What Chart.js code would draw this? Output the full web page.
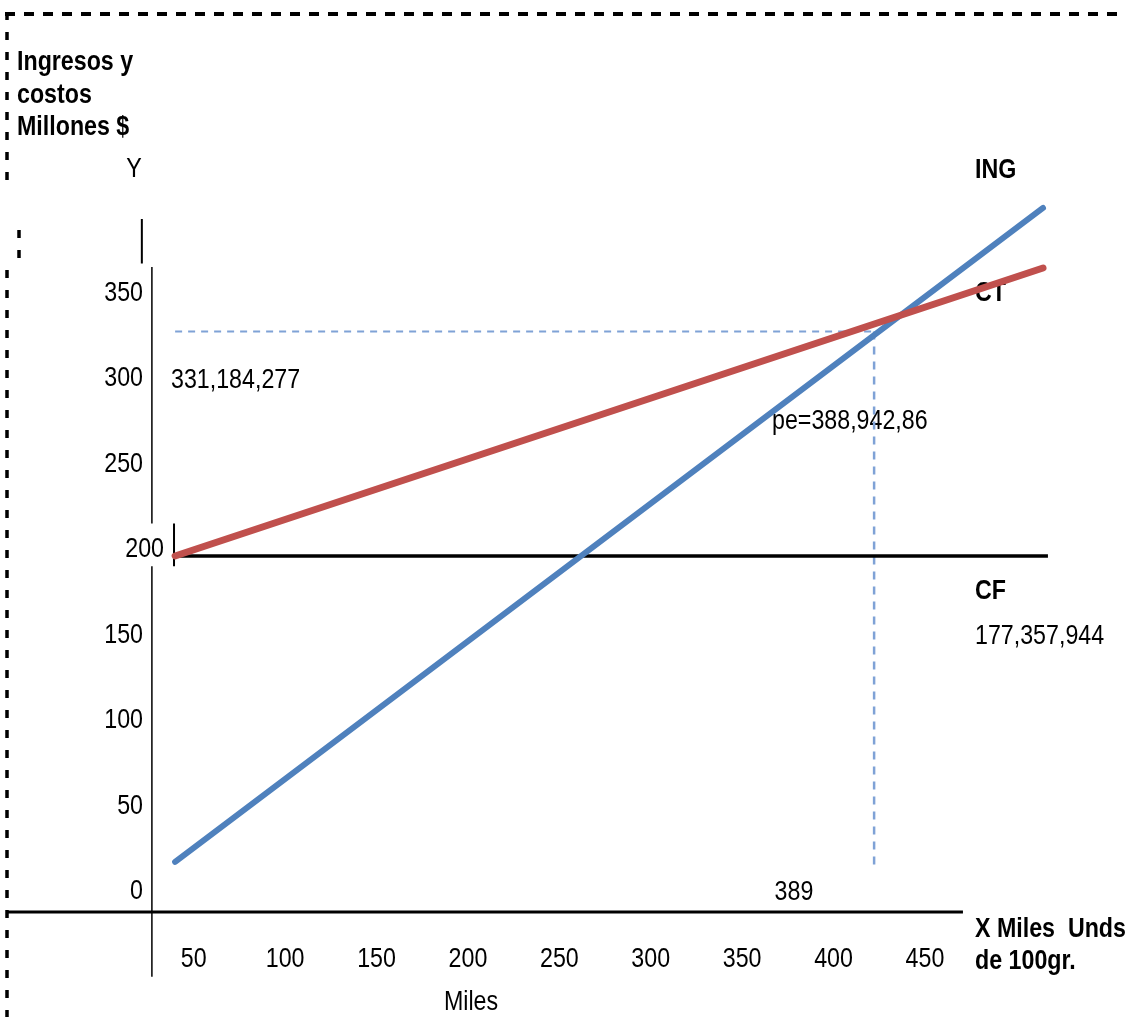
<!DOCTYPE html>
<html>
<head>
<meta charset="utf-8">
<script src="https://cdn.jsdelivr.net/npm/chart.js@4/dist/chart.umd.min.js"></script>
<style>
  html, body { margin: 0; padding: 0; background: #ffffff; }
  #wrap { position: relative; width: 1126px; height: 1017px; }
</style>
</head>
<body>
<div id="wrap"><canvas id="c" width="1126" height="1017"></canvas></div>
<script>
// Units: x in thousands of 100 g units, y in millions of $
const xTicks = [50, 100, 150, 200, 250, 300, 350, 400, 450];
const yTicks = [0, 50, 100, 150, 200, 250, 300, 350];

// Ingresos (ING)
const ingX = [39.8, 514.6];
const ingY = [21.1, 403.5];
// Costo total (CT)
const ctX = [39.8, 514.6];
const ctY = [200, 368.4];
// Costo fijo (CF)
const cfX = [39.8, 517.3];
const cfY = [200, 200];

// Break-even guides
const peIncome = 331.184277;      // 331,184,277 $
const peUnits = 388.94286;        // 388,942,86 units
const guideX = [39.8, 422.2];     // horizontal guide extent
const dropY = [331.184277, 16.4]; // vertical guide extent
const dropX = 422.2;

const toPoints = (xs, ys) => xs.map((x, i) => ({ x, y: ys[i] }));

const SANS = '"Liberation Sans Narrow", "Arial Narrow", "Liberation Sans", Arial, sans-serif';
const NARROW = 0.86; // condensed lettering

const decor = {
  id: 'decor',
  beforeDatasetsDraw(chart) {
    const { ctx } = chart;
    const xs = chart.scales.x, ys = chart.scales.y;
    const X = v => xs.getPixelForValue(v);
    const Y = v => ys.getPixelForValue(v);
    ctx.save();

    // page frame (dashed, top and left)
    ctx.strokeStyle = '#000';
    ctx.lineWidth = 4;
    ctx.setLineDash([10, 9]);
    ctx.beginPath(); ctx.moveTo(5, 14); ctx.lineTo(1126, 14); ctx.stroke();
    ctx.lineWidth = 3.5;
    ctx.setLineDash([8, 12]);
    ctx.beginPath(); ctx.moveTo(7, 12); ctx.lineTo(7, 182); ctx.stroke();
    ctx.beginPath(); ctx.moveTo(19, 230); ctx.lineTo(19, 262); ctx.stroke();
    ctx.beginPath(); ctx.moveTo(7, 270); ctx.lineTo(7, 1017); ctx.stroke();
    ctx.setLineDash([]);

    // axes
    ctx.lineWidth = 1.5;
    ctx.beginPath();
    ctx.moveTo(X(27.1), Y(369)); ctx.lineTo(X(27.1), Y(219));
    ctx.moveTo(X(27.1), Y(194)); ctx.lineTo(X(27.1), Y(-46));
    ctx.stroke();
    ctx.lineWidth = 2;
    ctx.beginPath();
    ctx.moveTo(X(21.6), Y(397)); ctx.lineTo(X(21.6), Y(371));
    ctx.moveTo(X(39.2), Y(219)); ctx.lineTo(X(39.2), Y(194));
    ctx.stroke();
    ctx.lineWidth = 3;
    ctx.beginPath(); ctx.moveTo(X(-52.2), Y(-8.2)); ctx.lineTo(X(470.8), Y(-8.2)); ctx.stroke();

    // text
    ctx.fillStyle = '#000';
    ctx.textBaseline = 'middle';
    const t = (s, x, y, align, bold) => {
      ctx.save();
      ctx.font = (bold ? 'bold ' : '') + '27px ' + SANS;
      ctx.textAlign = align;
      ctx.translate(x, y);
      ctx.scale(NARROW, 1);
      ctx.fillText(s, 0, 0);
      ctx.restore();
    };
    t('Ingresos y', 17, 63, 'left', true);
    t('costos', 17, 96, 'left', true);
    t('Millones $', 17, 128, 'left', true);
    t('Y', 134, 170, 'center', false);

    yTicks.forEach(v => t(String(v), v === 200 ? 164 : 143, Y(v) - 6, 'right', false));
    xTicks.forEach(v => t(String(v), X(v), 960, 'center', false));

    t('ING', 975, 171, 'left', true);
    t('CT', 975, 294, 'left', true);
    t('331,184,277', 171, 381, 'left', false);
    t('pe=388,942,86', 772, 422, 'left', false);
    t('CF', 975, 592, 'left', true);
    t('177,357,944', 975, 637, 'left', false);
    t(String(Math.round(peUnits)), X(peUnits), Y(0) - 5, 'right', false);
    t('X Miles  Unds', 975, 930, 'left', true);
    t('de 100gr.', 975, 962, 'left', true);
    t('Miles', 471, 1003, 'center', false);

    ctx.restore();
  }
};

new Chart(document.getElementById('c'), {
  type: 'line',
  data: {
    datasets: [
      {
        label: 'CT',
        data: toPoints(ctX, ctY),
        borderColor: '#c0504d',
        borderWidth: 7,
        borderCapStyle: 'round',
        pointRadius: 0,
        order: 0
      },
      {
        label: 'ING',
        data: toPoints(ingX, ingY),
        borderColor: '#4f81bd',
        borderWidth: 6,
        borderCapStyle: 'round',
        pointRadius: 0,
        order: 1
      },
      {
        label: 'CF',
        data: toPoints(cfX, cfY),
        borderColor: '#000000',
        borderWidth: 3.5,
        pointRadius: 0,
        order: 2
      },
      {
        label: 'pe-h',
        data: toPoints(guideX, [peIncome, peIncome]),
        borderColor: '#7fa2d6',
        borderWidth: 2,
        borderDash: [7, 6],
        pointRadius: 0,
        order: 3
      },
      {
        label: 'pe-v',
        data: toPoints([dropX, dropX], dropY),
        borderColor: '#7fa2d6',
        borderWidth: 2.5,
        borderDash: [8, 7],
        pointRadius: 0,
        order: 3
      }
    ]
  },
  options: {
    responsive: false,
    animation: false,
    events: [],
    layout: { padding: 0 },
    plugins: { legend: { display: false }, tooltip: { enabled: false } },
    scales: {
      x: { type: 'linear', min: -56, max: 560, display: false },
      y: { type: 'linear', min: -69.6, max: 525.1, display: false }
    }
  },
  plugins: [decor]
});
</script>
</body>
</html>
